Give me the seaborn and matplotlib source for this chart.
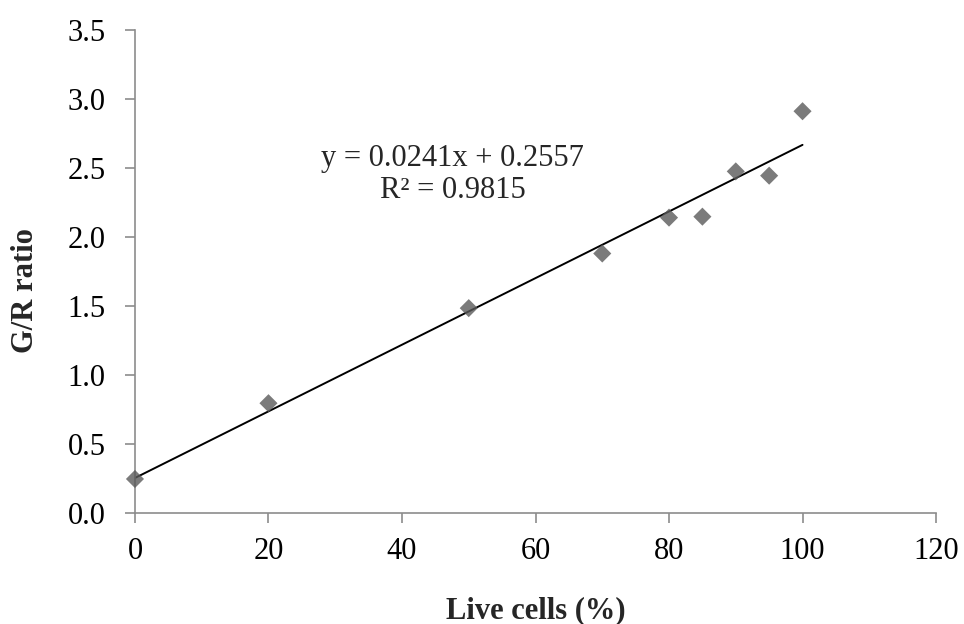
import matplotlib
matplotlib.use("Agg")
import matplotlib.pyplot as plt
import seaborn as sns
import numpy as np
import pandas as pd

live_cells = [0, 20, 50, 70, 80, 85, 90, 95, 100]
gr_ratio = [0.246, 0.795, 1.484, 1.880, 2.140, 2.147, 2.475, 2.444, 2.911]
x_ticks = [0, 20, 40, 60, 80, 100, 120]
y_ticks = [0.0, 0.5, 1.0, 1.5, 2.0, 2.5, 3.0, 3.5]
eq_text = "y = 0.0241x + 0.2557\nR\u00b2 = 0.9815"

sns.set_style("white")
plt.rcParams['font.family'] = ['Liberation Serif', 'DejaVu Serif']

df = pd.DataFrame({"x": live_cells, "y": gr_ratio})

fig = plt.figure(figsize=(9.64, 6.24), dpi=100)
ax = fig.add_axes([0.140, 0.178, 0.831, 0.774])

sns.regplot(data=df, x="x", y="y", ax=ax, ci=None, truncate=True,
            marker="D",
            scatter_kws=dict(s=85, color="#5a5a5a", edgecolor="none", zorder=3),
            line_kws=dict(color="black", lw=1.4, zorder=2))

ax.set_xlim(0, 120)
ax.set_ylim(0, 3.5)
ax.set_xticks(x_ticks)
ax.set_xticklabels([str(t) for t in x_ticks])
ax.set_yticks(y_ticks)
ax.set_yticklabels([f"{t:.1f}" for t in y_ticks])

for s in ["top", "right"]:
    ax.spines[s].set_visible(False)
for s in ["left", "bottom"]:
    ax.spines[s].set_color("#8c8c8c")
    ax.spines[s].set_linewidth(1.2)

ax.tick_params(axis="both", which="major", direction="out", length=7, width=1.2,
               color="#8c8c8c", labelsize=22, labelcolor="black",
               bottom=True, left=True)
ax.tick_params(axis="x", pad=10)
ax.tick_params(axis="y", pad=14)

ax.set_xlabel("Live cells (%)", fontsize=22, fontweight="bold", labelpad=22)
ax.set_ylabel("G/R ratio", fontsize=22, fontweight="bold", labelpad=20)
ax.yaxis.label.set_y(0.46)

ax.text(47.6, 2.45, eq_text, ha="center", va="center", fontsize=22,
        multialignment="center", linespacing=1.15)

for c in ax.collections:
    c.set_clip_on(False)

fig.savefig("out.png", dpi=100)
